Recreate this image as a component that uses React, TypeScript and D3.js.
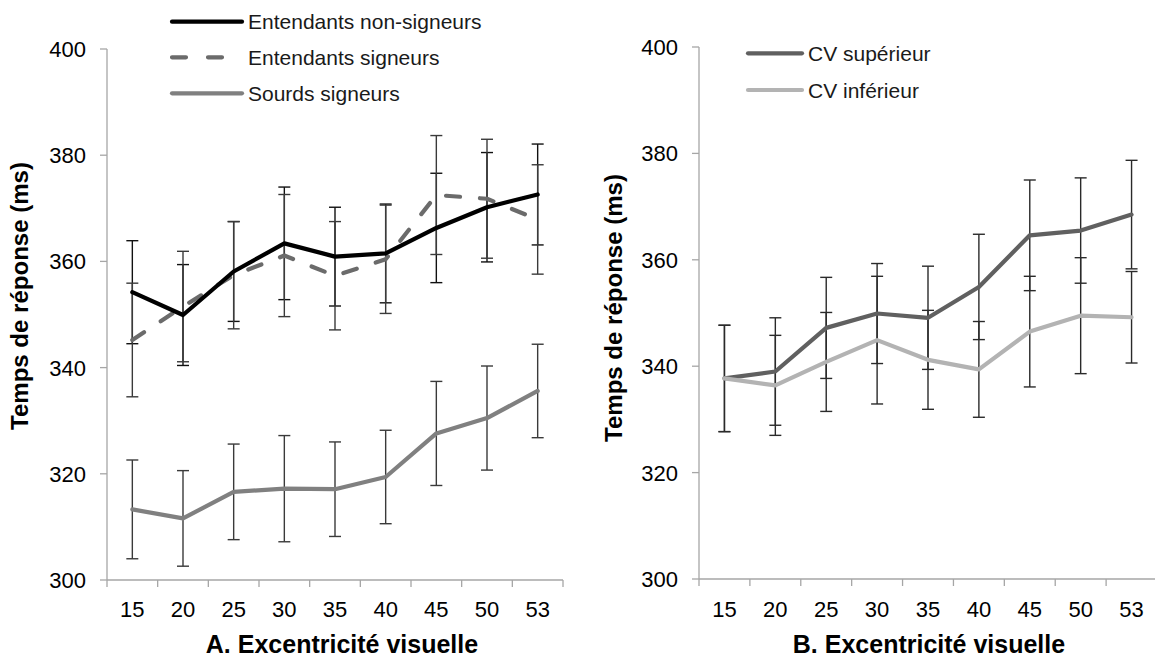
import React from "react";
import * as d3 from "d3";

const categories = ["15", "20", "25", "30", "35", "40", "45", "50", "53"];
const yTicks = [300, 320, 340, 360, 380, 400];

const entNonSign = [354.2, 349.9, 358.1, 363.4, 360.9, 361.5, 366.3, 370.2, 372.6];
const entNonSignErr = [9.7, 9.5, 9.4, 10.6, 9.3, 9.3, 10.3, 10.3, 9.5];
const entSign = [345.2, 351.5, 357.4, 361.1, 357.3, 360.4, 372.5, 371.8, 367.9];
const entSignErr = [10.7, 10.4, 10.1, 11.5, 10.2, 10.2, 11.2, 11.2, 10.3];
const sourds = [313.3, 311.6, 316.6, 317.2, 317.1, 319.4, 327.6, 330.5, 335.6];
const sourdsErr = [9.3, 9.0, 9.0, 10.0, 8.9, 8.8, 9.8, 9.8, 8.8];

const cvSup = [337.7, 339.0, 347.2, 349.9, 349.1, 354.9, 364.6, 365.5, 368.5];
const cvSupErr = [10.0, 10.1, 9.5, 9.4, 9.7, 9.9, 10.4, 9.9, 10.2];
const cvInf = [337.7, 336.4, 340.8, 344.9, 341.2, 339.4, 346.5, 349.5, 349.2];
const cvInfErr = [10.0, 9.4, 9.3, 12.0, 9.3, 9.0, 10.4, 10.9, 8.6];

const FONT = "'Liberation Sans', Arial, sans-serif";
const AXIS = "#a6a6a6";

type Series = {
  name: string;
  values: number[];
  errs: number[];
  color: string;
  barColor: string;
  dash?: string;
  legendDash?: string;
};

const leftSeries: Series[] = [
  { name: "Entendants non-signeurs", values: entNonSign, errs: entNonSignErr, color: "#000000", barColor: "#111111" },
  { name: "Entendants signeurs", values: entSign, errs: entSignErr, color: "#6b6b6b", barColor: "#3a3a3a", dash: "14 20", legendDash: "14 22" },
  { name: "Sourds signeurs", values: sourds, errs: sourdsErr, color: "#808080", barColor: "#3a3a3a" },
];

const rightSeries: Series[] = [
  { name: "CV supérieur", values: cvSup, errs: cvSupErr, color: "#606060", barColor: "#2a2a2a" },
  { name: "CV inférieur", values: cvInf, errs: cvInfErr, color: "#b3b3b3", barColor: "#2a2a2a" },
];

type PanelProps = {
  series: Series[];
  x0: number;
  x1: number;
  yBottom: number;
  yTop: number;
  xTitle: string;
  xTitleX: number;
  yTitleX: number;
  yTitleY: number;
  legendX: number;
  legendLen: number;
  legendYs: number[];
  drawOrder: number[];
};

function Panel(p: PanelProps) {
  const x = d3.scaleBand<string>().domain(categories).range([p.x0, p.x1]).padding(0);
  const y = d3.scaleLinear().domain([300, 400]).range([p.yBottom, p.yTop]);
  const cx = (c: string) => (x(c) as number) + x.bandwidth() / 2;
  const line = d3
    .line<number>()
    .x((_, i) => cx(categories[i]))
    .y((v) => y(v));
  const boundaries = categories.map((c) => x(c) as number).concat([p.x1]);

  return (
    <g>
      {/* axes */}
      <line x1={p.x0} x2={p.x0} y1={y(400)} y2={y(300)} stroke={AXIS} strokeWidth={1.3} />
      <line x1={p.x0} x2={p.x1} y1={y(300)} y2={y(300)} stroke={AXIS} strokeWidth={1.3} />
      {yTicks.map((t) => (
        <g key={t}>
          <line x1={p.x0 - 7} x2={p.x0} y1={y(t)} y2={y(t)} stroke={AXIS} strokeWidth={1.3} />
          <text x={p.x0 - 21} y={y(t) + 8} textAnchor="end" fontSize={22} fontFamily={FONT} fill="#000">
            {t}
          </text>
        </g>
      ))}
      {boundaries.map((b, i) => (
        <line key={i} x1={b} x2={b} y1={y(300)} y2={y(300) + 7} stroke={AXIS} strokeWidth={1.3} />
      ))}
      {categories.map((c) => (
        <text key={c} x={cx(c)} y={617} textAnchor="middle" fontSize={22} fontFamily={FONT} fill="#000">
          {c}
        </text>
      ))}
      <text x={p.xTitleX} y={653} textAnchor="middle" fontSize={25} fontWeight="bold" fontFamily={FONT} fill="#000">
        {p.xTitle}
      </text>
      <text
        transform={`translate(${p.yTitleX},${p.yTitleY}) rotate(-90)`}
        textAnchor="middle"
        fontSize={23}
        fontWeight="bold"
        fontFamily={FONT}
        fill="#000"
        textLength={268}
        lengthAdjust="spacingAndGlyphs"
      >
        Temps de réponse (ms)
      </text>

      {/* error bars */}
      {p.series.map((s, si) => (
        <g key={"e" + si} stroke={s.barColor} strokeWidth={1.4}>
          {s.values.map((v, i) => {
            const xc = cx(categories[i]);
            const hi = y(v + s.errs[i]);
            const lo = y(v - s.errs[i]);
            return (
              <g key={i}>
                <line x1={xc} x2={xc} y1={hi} y2={lo} />
                <line x1={xc - 6} x2={xc + 6} y1={hi} y2={hi} />
                <line x1={xc - 6} x2={xc + 6} y1={lo} y2={lo} />
              </g>
            );
          })}
        </g>
      ))}

      {/* lines */}
      {p.drawOrder.map((si) => {
        const s = p.series[si];
        return (
          <path
            key={"l" + si}
            d={line(s.values) as string}
            fill="none"
            stroke={s.color}
            strokeWidth={4.2}
            strokeLinejoin="round"
            strokeLinecap="round"
            strokeDasharray={s.dash}
          />
        );
      })}

      {/* legend */}
      {p.series.map((s, si) => (
        <g key={"lg" + si}>
          <line
            x1={p.legendX}
            x2={p.legendX + p.legendLen}
            y1={p.legendYs[si]}
            y2={p.legendYs[si]}
            stroke={s.color}
            strokeWidth={4.2}
            strokeLinecap="round"
            strokeDasharray={s.legendDash}
          />
          <text x={p.legendX + p.legendLen + 6} y={p.legendYs[si] + 7.5} fontSize={21} fontFamily={FONT} fill="#1a1a1a">
            {s.name}
          </text>
        </g>
      ))}
    </g>
  );
}

export default function App() {
  return (
    <svg
      width={1155}
      height={659}
      style={{ position: "absolute", left: 0, top: 0, background: "#fff" }}
    >
      <rect x={0} y={0} width={1155} height={659} fill="#fff" />
      <Panel
        series={leftSeries}
        x0={107}
        x1={563}
        yBottom={580}
        yTop={49}
        xTitle="A. Excentricité visuelle"
        xTitleX={342}
        yTitleX={28}
        yTitleY={296}
        legendX={172}
        legendLen={70}
        legendYs={[21.7, 57.3, 93.3]}
        drawOrder={[2, 1, 0]}
      />
      <Panel
        series={rightSeries}
        x0={699}
        x1={1157}
        yBottom={579}
        yTop={47}
        xTitle="B. Excentricité visuelle"
        xTitleX={929}
        yTitleX={622}
        yTitleY={308}
        legendX={748}
        legendLen={54}
        legendYs={[53.3, 90]}
        drawOrder={[0, 1]}
      />
    </svg>
  );
}
